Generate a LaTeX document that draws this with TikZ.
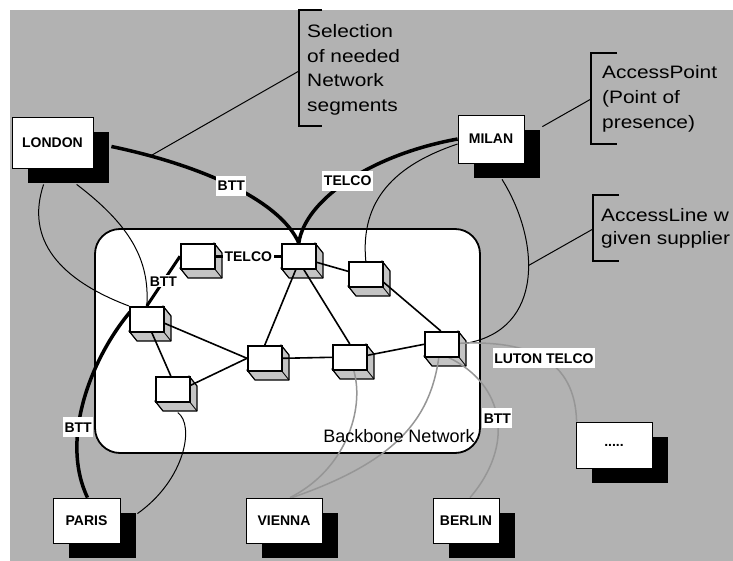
\documentclass[tikz,border=0pt]{standalone}
\usepackage{fontspec}
\setmainfont{Liberation Sans}
\newfontfamily\callfont[FakeStretch=1.16]{Liberation Sans}
\usetikzlibrary{calc,shadows}
\definecolor{bggray}{RGB}{178,178,178}
\definecolor{depthgray}{RGB}{196,196,196}
\definecolor{linegray}{RGB}{150,150,150}
\pgfdeclarelayer{bg}
\pgfdeclarelayer{depth}
\pgfdeclarelayer{edges}
\pgfsetlayers{bg,depth,edges,main}
\tikzset{
  city/.style={draw=black, line width=0.8pt, fill=white, inner sep=0pt,
    font=\bfseries\fontsize{14}{14}\selectfont,
    drop shadow={shadow xshift=16pt, shadow yshift=-15pt, fill=black, opacity=1}},
  router/.style={draw=black, line width=1.6pt, fill=white, minimum width=34pt,
    minimum height=25pt, inner sep=0pt, anchor=north west},
  depthface/.style={fill=depthgray, draw=black, line width=1.2pt, line join=round},
  lbl/.style={fill=white, inner xsep=1.5pt, inner ysep=5pt, text height=10pt,
    text depth=0pt, font=\bfseries\fontsize{14}{14}\selectfont},
  slbl/.style={lbl, inner ysep=1pt},
  thinline/.style={draw=black, line width=1pt},
  coreline/.style={draw=black, line width=1.6pt},
  heavy/.style={draw=black, line width=3.5pt},
  grayline/.style={draw=linegray, line width=1.5pt},
  bracket/.style={draw=black, line width=1.1pt},
  calltext/.style={anchor=base west, inner sep=0pt,
    font=\callfont\fontsize{18}{18}\selectfont},
}
\newcommand{\routerbox}[3]{%
  \begin{pgfonlayer}{depth}
    \filldraw[depthface] (#2+34,#3) -- (#2+42,#3+10) -- (#2+42,#3+35) -- (#2+8,#3+35) -- (#2,#3+25) -- cycle;
    \draw[line width=0.8pt] (#2+34,#3+25) -- (#2+42,#3+35);
  \end{pgfonlayer}
  \node[router] (#1) at (#2,#3) {};
}
\begin{document}
\begin{tikzpicture}[x=1pt,y=-1pt]
\useasboundingbox (0,0) rectangle (733,561);
\begin{pgfonlayer}{bg}
  \fill[white] (0,0) rectangle (733,561);
  \fill[bggray] (10,10) rectangle (733,561);
  \node[draw=black, line width=1.8pt, fill=white, rounded corners=25pt,
        minimum width=385pt, minimum height=224pt, inner sep=0pt] (backbone) at (287.5,341) {};
\end{pgfonlayer}

% cities
\node[city, minimum width=81pt, minimum height=51pt] (london) at (52.5,142.5) {LONDON};
\node[city, minimum width=66pt, minimum height=48pt] (milan) at (491,139) {MILAN};
\node[city, minimum width=67pt, minimum height=45pt] (paris) at (86.5,520.5) {PARIS};
\node[city, minimum width=76pt, minimum height=45pt] (vienna) at (284,520.5) {VIENNA};
\node[city, minimum width=66pt, minimum height=45pt] (berlin) at (466,520.5) {BERLIN};
\node[city, minimum width=76pt, minimum height=46pt] (dots) at (614,445) {.....};

% routers
\routerbox{r1}{180}{243}
\routerbox{r2}{281}{243}
\routerbox{r3}{129}{306}
\routerbox{r4}{155}{376}
\routerbox{r5}{247}{345}
\routerbox{r6}{332}{344}
\routerbox{r7}{348}{261}
\routerbox{r8}{424}{331}

\node[anchor=base, inner sep=0pt, font=\fontsize{18}{18}\selectfont] (bbname) at (399,442) {Backbone Network};

\begin{pgfonlayer}{edges}
  % backbone links
  \draw[coreline] ($(r2.south)+(-3,0)$) -- (r5.north);
  \draw[coreline] ($(r2.south)+(5,0)$) -- (r6.north);
  \draw[coreline] ($(r2.east)+(0,6)$) -- ($(r7.west)+(0,-3)$);
  \draw[coreline] ($(r3.east)+(0,4)$) -- (r5.west);
  \draw[coreline] ($(r3.south)+(5,0)$) -- ($(r4.north)+(-2,0)$);
  \draw[coreline] ($(r4.east)+(0,-4)$) -- (r5.west);
  \draw[coreline] (r5.east) -- (r6.west);
  \draw[coreline] ($(r6.east)+(0,-2)$) -- (r8.west);
  \draw[coreline] ($(r7.east)+(0,8)$) -- ($(r8.north)+(-1,0)$);
  % thin access lines
  \draw[thinline] ($(london.south west)+(32,16)$) .. controls (25,240) and (60,280) .. (r3.north west);
  \draw[thinline] ($(london.south west)+(65,16)$) .. controls (130,225) and (150,260) .. (r3.north);
  \draw[thinline] ($(paris.north east)+(17,16)$) .. controls (185,480) and (195,425) .. ($(r4.south)+(5,10)$);
  \draw[thinline] ($(milan.west)+(0,5)$) .. controls (395,165) and (360,200) .. (r7.north);
  \draw[thinline] ($(milan.south)+(11,16)$) .. controls (540,240) and (545,330) .. ($(r8.east)+(6,-1)$) coordinate[pos=0.43] (alfoot);
  % heavy lines
  \draw[heavy] ($(london.east)+(18,4)$) .. controls (200,165) and (280,200) .. (r2.north) coordinate[pos=0.5] (lbtt) coordinate[pos=0.15] (selfoot);
  \draw[heavy] (milan.west) .. controls (370,155) and (305,200) .. (r2.north) coordinate[pos=0.5] (mtelco);
  \draw[heavy] ($(paris.north)+(1,0)$) .. controls (60,440) and (90,360) .. ($(r3.north west)+(1,6)$) coordinate[pos=0.37] (pbtt);
  \draw[heavy, line width=3pt] (r1.west) -- (r3.north) coordinate[pos=0.5] (rbtt);
  \draw[heavy, line width=3pt] (r1.east) -- (r2.west) coordinate[pos=0.5] (rtelco);
  % gray lines
  \draw[grayline] ($(vienna.north)+(6,0)$) .. controls (345,470) and (365,410) .. ($(r6.south)+(4,0)$);
  \draw[grayline] ($(vienna.north)+(8,0)$) .. controls (395,462) and (430,420) .. ($(r8.south)+(-3,0)$);
  \draw[grayline] ($(berlin.north)+(4,0)$) .. controls (515,445) and (505,385) .. ($(r8.south)+(7,0)$) coordinate[pos=0.5] (bbtt);
  \draw[grayline] ($(dots.north west)+(1,0)$) .. controls (575,360) and (530,340) .. ($(r8.east)+(0,-1)$) coordinate[pos=0.5] (luton);
  % callout lines
  \coordinate (selbr) at (299,71);
  \coordinate (apbr) at (591,99);
  \coordinate (albr) at (593,229);
  \draw[thinline] (selfoot) -- (selbr);
  \draw[thinline] ($(milan.north east)+(18,12)$) -- (apbr);
  \draw[thinline] (alfoot) -- (albr);
\end{pgfonlayer}

% line labels
\node[lbl] (l1) at (lbtt) {BTT};
\node[lbl] (l2) at (mtelco) {TELCO};
\node[lbl] (l3) at (pbtt) {BTT};
\node[slbl] (l4) at (rbtt) {BTT};
\node[slbl] (l5) at (rtelco) {TELCO};
\node[lbl] (l6) at (bbtt) {BTT};
\node[lbl] (l7) at (luton) {LUTON TELCO};

% brackets
\draw[bracket] (322,10) -- (299,10) -- (299,126) -- (322,126);
\draw[bracket] (617,53) -- (591,53) -- (591,144) -- (617,144);
\draw[bracket] (619,195) -- (593,195) -- (593,261) -- (619,261);

% callout texts
\node[calltext] (sel1) at (307,38) {Selection};
\node[calltext] (sel2) at (307,63) {of needed};
\node[calltext] (sel3) at (307,87) {Network};
\node[calltext] (sel4) at (307,112) {segments};
\node[calltext] (ap1) at (602,79) {AccessPoint};
\node[calltext] (ap2) at (602,104) {(Point of};
\node[calltext] (ap3) at (602,129) {presence)};
\node[calltext] (al1) at (601,222) {AccessLine w};
\node[calltext] (al2) at (601,245) {given supplier};
\end{tikzpicture}
\end{document}
